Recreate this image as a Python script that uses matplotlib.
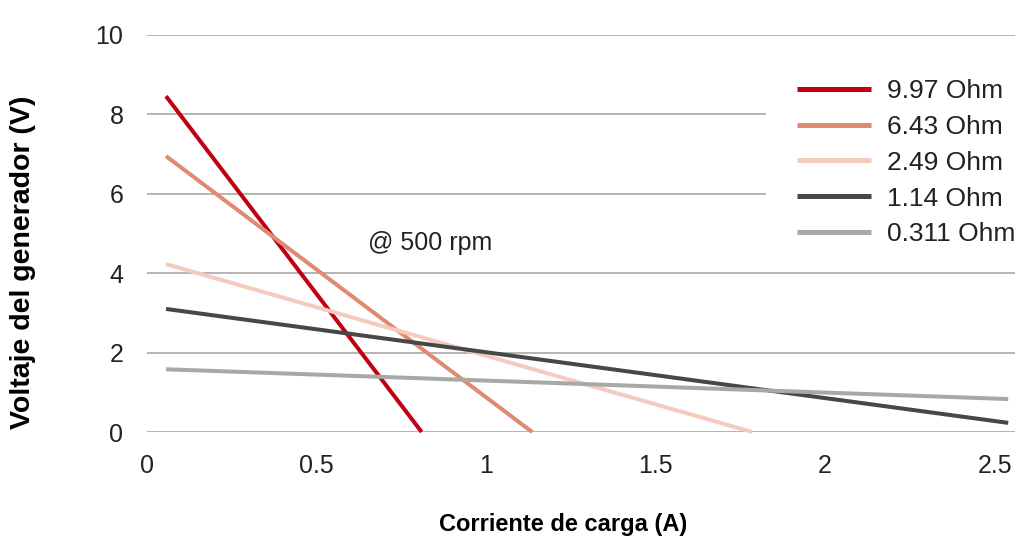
import numpy as np
import matplotlib
matplotlib.use('Agg')
import matplotlib.pyplot as plt
from matplotlib.patches import Rectangle

plt.rcParams['font.family'] = ['Liberation Sans', 'DejaVu Sans']

# data (start / end points of each load line)
labels = ['9.97 Ohm', '6.43 Ohm', '2.49 Ohm', '1.14 Ohm', '0.311 Ohm']
current_a = [[0.056, 0.81], [0.056, 1.136], [0.056, 1.785], [0.056, 2.54], [0.056, 2.54]]
voltage_v = [[8.46, 0.0], [6.95, 0.0], [4.23, 0.0], [3.10, 0.23], [1.58, 0.83]]
colors = ['#c00010', '#e08a70', '#f5cbbd', '#474747', '#a8a8a8']

x_ticks = [0, 0.5, 1, 1.5, 2, 2.5]
x_ticklabels = ['0', '0.5', '1', '1.5', '2', '2.5']
y_ticks = [0, 2, 4, 6, 8, 10]

fig = plt.figure(figsize=(10.27, 5.44), dpi=100, facecolor='w')
ax = fig.add_axes([147/1027, 1 - 432/544, (1015-147)/1027, (432-35)/544])

for s in ax.spines.values():
    s.set_visible(False)

for y in y_ticks:
    ax.axhline(y, color='#a0a0a0', lw=1.1, zorder=1)

lines = []
for xs, ys, c, lab in zip(current_a, voltage_v, colors, labels):
    l, = ax.plot(xs, ys, color=c, lw=2.9, solid_capstyle='butt', label=lab, zorder=3, clip_on=False)
    lines.append(l)

ax.set_xlim(0, 2.56)
ax.set_ylim(0, 10)
ax.set_xticks(x_ticks)
ax.set_xticklabels(x_ticklabels)
ax.set_yticks(y_ticks)
ax.tick_params(axis='both', length=0, labelsize=18, colors='#222222')
ax.tick_params(axis='x', pad=16)
ax.tick_params(axis='y', pad=17)

ax.text(0.652, 4.76, '@ 500 rpm', fontsize=18, color='#222222', va='center', ha='left')

# white panel behind the legend (hides the grid there, as in the original)
fig.patches.append(Rectangle((766/1027, 1 - 255/544), (1027-766)/1027, (255-62)/544,
                             transform=fig.transFigure, facecolor='white', edgecolor='none', zorder=4))

leg = fig.legend(handles=lines, loc='upper left', bbox_to_anchor=(789/1027, 1 - 71/544),
                 fontsize=19, frameon=False,
                 handlelength=2.8, handletextpad=0.6, labelspacing=0.45, borderpad=0.3,
                 borderaxespad=0)
for t in leg.get_texts():
    t.set_color('#222222')
for h in leg.legend_handles:
    h.set_linewidth(3.6)
leg.set_zorder(5)

fig.text(563/1027, 1 - 525/544, 'Corriente de carga (A)', fontsize=17, fontweight='bold',
         ha='center', va='center')
fig.text(23/1027, 1 - 262/544, 'Voltaje del generador (V)', fontsize=20.5, fontweight='bold',
         ha='center', va='center', rotation=90)

fig.savefig('out.png', dpi=100, facecolor='w')
